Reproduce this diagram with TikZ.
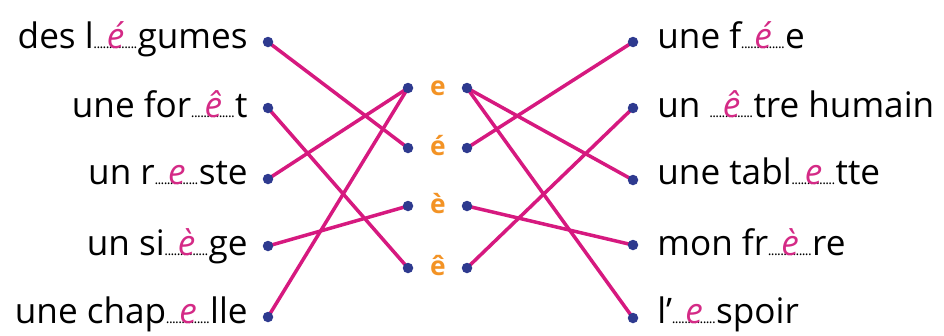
\documentclass[tikz,border=0pt]{standalone}
\usepackage{fontspec}
\setmainfont{Open Sans}
\usetikzlibrary{positioning}
\pgfdeclarelayer{background}
\pgfsetlayers{background,main}
\definecolor{trait}{HTML}{D6197F}
\definecolor{point}{HTML}{2E3A8F}
\definecolor{voyelle}{HTML}{F39325}
\definecolor{lettre}{HTML}{D42A86}
\newcommand{\trou}[1]{\hbox to 1.25em{\rlap{\hbox to 1.25em{\fontsize{8}{8}\selectfont\leaders\hbox to .22em{\hss.\hss}\hfill}}\hss{\color{lettre}\itshape #1}\hss}}

\begin{document}
\begin{tikzpicture}[x=0.02cm,y=-0.02cm,
  dot/.style={circle,fill=point,inner sep=0pt,minimum size=0.21cm},
  word/.style={font=\fontsize{20}{22}\selectfont,inner sep=0pt},
  voy/.style={font=\fontsize{15}{17}\selectfont\bfseries,text=voyelle,inner sep=0pt,anchor=base},
  link/.style={draw=trait,line width=0.07cm}]
\useasboundingbox (0,0) rectangle (944,335);

\node[dot] (L1) at (268,42) {};
\node[dot] (L2) at (268,108) {};
\node[dot] (L3) at (268,179) {};
\node[dot] (L4) at (268,246) {};
\node[dot] (L5) at (268,317) {};

\node[dot] (ML1) at (408,88) {};
\node[dot] (ML2) at (408,148) {};
\node[dot] (ML3) at (408,206) {};
\node[dot] (ML4) at (408,268) {};

\node[dot] (MR1) at (467,88) {};
\node[dot] (MR2) at (467,148) {};
\node[dot] (MR3) at (467,206) {};
\node[dot] (MR4) at (467,268) {};

\node[dot] (R1) at (633,42) {};
\node[dot] (R2) at (633,108) {};
\node[dot] (R3) at (633,180) {};
\node[dot] (R4) at (633,245) {};
\node[dot] (R5) at (633,318) {};

\node[word,anchor=base east] (t1) at (248,48) {des l\trou{é}gumes};
\node[word,anchor=base east] (t2) at (248,117) {une for\trou{ê}t};
\node[word,anchor=base east] (t3) at (248,184) {un r\trou{e}ste};
\node[word,anchor=base east] (t4) at (248,255) {un si\trou{è}ge};
\node[word,anchor=base east] (t5) at (248,323) {une chap\trou{e}lle};

\node[voy] (v1) at (438,95) {e};
\node[voy] (v2) at (438,155) {é};
\node[voy] (v3) at (438,213) {è};
\node[voy] (v4) at (438,275) {ê};

\node[word,anchor=base west] (s1) at (657,48) {une f\trou{é}e};
\node[word,anchor=base west] (s2) at (657,117) {un \trou{ê}tre humain};
\node[word,anchor=base west] (s3) at (657,184) {une tabl\trou{e}tte};
\node[word,anchor=base west] (s4) at (657,255) {mon fr\trou{è}re};
\node[word,anchor=base west] (s5) at (657,323) {l’\trou{e}spoir};

\begin{pgfonlayer}{background}
\draw[link] (L1.center) -- (ML2.center);
\draw[link] (L2.center) -- (ML4.center);
\draw[link] (L3.center) -- (ML1.center);
\draw[link] (L4.center) -- (ML3.center);
\draw[link] (L5.center) -- (ML1.center);

\draw[link] (MR1.center) -- (R3.center);
\draw[link] (MR1.center) -- (R5.center);
\draw[link] (MR2.center) -- (R1.center);
\draw[link] (MR3.center) -- (R4.center);
\draw[link] (MR4.center) -- (R2.center);
\end{pgfonlayer}
\end{tikzpicture}
\end{document}
